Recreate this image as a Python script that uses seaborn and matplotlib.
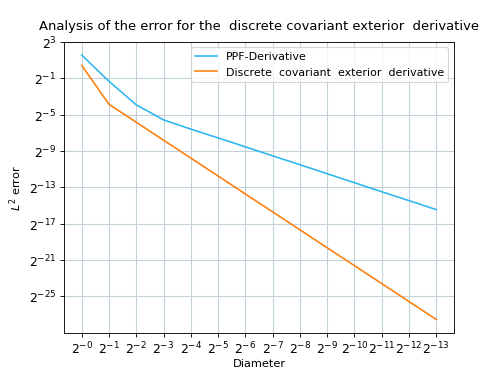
import numpy as np
import pandas as pd
import seaborn as sns
import matplotlib
matplotlib.use("Agg")
import matplotlib.pyplot as plt

# diameter exponents: diameter = 2^-k
k = list(range(14))
# log2 of the L2 error
ppf_log2 = [1.55, -1.34, -3.93, -5.58, -6.6, -7.57, -8.55, -9.54, -10.52,
            -11.51, -12.5, -13.49, -14.47, -15.46]
dcd_log2 = [0.42, -3.87, -5.84, -7.82, -9.79, -11.76, -13.74, -15.71, -17.68,
            -19.66, -21.63, -23.6, -25.58, -27.55]
labels = ["PPF-Derivative", "Discrete  covariant  exterior  derivative"]

df = pd.DataFrame({
    "k": k * 2,
    "err": 2.0 ** np.array(ppf_log2 + dcd_log2),
    "method": [labels[0]] * len(k) + [labels[1]] * len(k),
})

fig, ax = plt.subplots(figsize=(6.4, 4.8), dpi=77.8125)
fig.subplots_adjust(left=0.1285, right=0.9116, top=0.8866, bottom=0.108)
sns.lineplot(data=df, x="k", y="err", hue="method", ax=ax,
             palette=["#2db7f0", "#ff7f0e"], linewidth=1.5)

ax.set_yscale("log", base=2)
yt = [3, -1, -5, -9, -13, -17, -21, -25]
ax.set_yticks([2.0 ** e for e in yt])
ax.set_yticklabels([f"$2^{{{e}}}$" for e in yt])
ax.set_yticks([], minor=True)
ax.set_xticks(k)
ax.set_xticklabels([f"$2^{{-{i}}}$" for i in k])
ax.tick_params(labelsize=11.5)

ax.grid(True, color="#c3d1db", linewidth=1)
ax.set_axisbelow(True)
ax.set_xlabel("Diameter", fontsize=10.5, labelpad=2)
ax.set_ylabel("$L^2$ error", fontsize=10.5)
ax.set_title("Analysis of the error for the  discrete covariant exterior  derivative",
             fontsize=12.2, pad=11)
ax.legend(loc="upper right", fontsize=10.2)

fig.savefig("out.png", dpi=77.8125)
